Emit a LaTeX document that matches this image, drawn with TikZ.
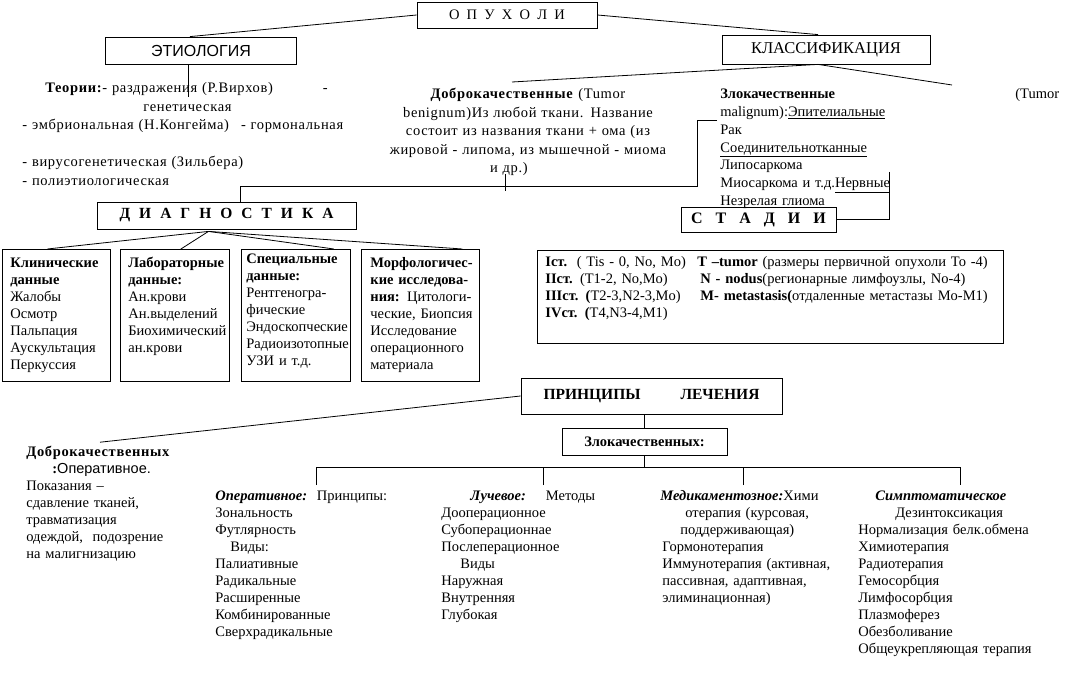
\documentclass[tikz,border=0pt]{standalone}
\usepackage{fontspec}
\setmainfont{Liberation Serif}
\setsansfont{Liberation Sans}
\newfontfamily\spacedfont{Liberation Serif}[LetterSpace=4.5]
\newcommand{\lgap}{\hspace{9pt}}
\usetikzlibrary{calc}

\begin{document}
\begin{tikzpicture}[x=1pt, y=-1pt, line width=0.8pt,
	font=\fontsize{14.5}{17}\selectfont,
	head/.style={draw, inner sep=0pt, align=center},
	cell/.style={draw, inner sep=0pt, anchor=north west},
	txt/.style={inner sep=0pt, anchor=base west, align=left, text width=#1},
	txt/.default=320]
	\useasboundingbox (0,0) rectangle (1074,674);

	% верх
	\node[head, minimum width=180, minimum height=26] (op) at (507,15) {О\ \ П\ \ У\ \ Х\ \ О\ \ Л\ \ И};
	\node[head, minimum width=191, minimum height=27, font=\sffamily\fontsize{16}{17}\selectfont] (etio) at (201,50.5) {ЭТИОЛОГИЯ};
	\node[head, minimum width=208, minimum height=29, font=\fontsize{16.5}{17}\selectfont] (klass) at (826,49.5) {КЛАССИФИКАЦИЯ};
	\coordinate (kl1) at (512,82);
	\coordinate (kl2) at (952,85);

	\draw (op.west) -- ($(etio.north)+(-11,0)$);
	\draw (op.east) -- ($(klass.north)+(-8,0)$);
	\draw (kl1) -- ($(klass.south)+(-8,0)$) -- (kl2);
	\draw ($(etio.south)+(-13,0)$) -- ++(0,33);

	\node[txt=340, font=\spacedfont\fontsize{14.5}{18.5}\selectfont] (teo) at (22,93) {%
		\hspace*{23pt}\textbf{Теории:}- раздражения (Р.Вирхов)\hspace{50pt}-\\
		\hspace*{121pt}генетическая\\
		- эмбриональная (Н.Конгейма)\hspace{12pt}- гормональная\\[18.5pt]
		- вирусогенетическая (Зильбера)\\
		- полиэтиологическая};

	\node[inner sep=0pt, anchor=base, align=center, text width=300,
		font=\spacedfont\fontsize{14.5}{18.5}\selectfont] (dobr) at (528,99) {%
		\textbf{Доброкачественные} (Tumor\\
		benignum)Из любой ткани. Название\\
		состоит из названия ткани + ома (из\\
		жировой - липома, из мышечной - миома\\
		\makebox[76pt][l]{и др.)}};

	\node[txt=280, font=\fontsize{14.5}{17.7}\selectfont] (zl) at (720,99) {%
		\textbf{Злокачественные}\\
		malignum):\underline{Эпителиальные}\\
		Рак\\
		\underline{Соединительнотканные}\\
		Липосаркома\\
		Миосаркома и т.д.\underline{Нервные}\\
		Незрелая глиома};
	\node[txt=55] (tum) at (1015,99) {(Tumor};

	% диагностика
	\node[head, minimum width=259, minimum height=27, font=\bfseries\fontsize{15.5}{17}\selectfont] (diag) at (226.5,215.5)
		{Д\lgap И\lgap А\lgap Г\lgap Н\lgap О\lgap С\lgap Т\lgap И\lgap К\lgap А};
	\coordinate (kz) at (717,120);
	\draw (kz) -- (697,120) -- (697,186) -| ($(diag.north)+(14,0)$);
	\draw ($(dobr.south)+(-23,-2)$) -- ++(0,17);

	\node[cell, minimum width=108, minimum height=132] (d1) at (2,249) {};
	\node[cell, minimum width=109, minimum height=132] (d2) at (120,249) {};
	\node[cell, minimum width=109, minimum height=132] (d3) at (241,249) {};
	\node[cell, minimum width=118, minimum height=132] (d4) at (361,249) {};

	\node[txt=100] (d1t) at ($(d1.north west)+(8,18)$) {%
		\textbf{Клинические}\\ \textbf{данные}\\ Жалобы\\ Осмотр\\ Пальпация\\ Аускультация\\ Перкуссия};
	\node[txt=100] (d2t) at ($(d2.north west)+(8,18)$) {%
		\textbf{Лабораторные}\\ \textbf{данные:}\\ Ан.крови\\ Ан.выделений\\ Биохимический\\ ан.крови};
	\node[txt=105] (d3t) at ($(d3.north west)+(5,14)$) {%
		\textbf{Специальные}\\ \textbf{данные:}\\ Рентгеногра-\\ фические\\ Эндоскопчеcкие\\ Радиоизотопные\\ УЗИ и т.д.};
	\node[txt=110] (d4t) at ($(d4.north west)+(9,18)$) {%
		\textbf{Морфологичес-}\\ \textbf{кие исследова-}\\ \textbf{ния:} Цитологи-\\ ческие, Биопсия\\ Исследование\\ операционного\\ материала};

	\coordinate (dg) at ($(diag.south)+(-18,2)$);
	\draw (dg) -- ($(d1.north)+(-9,0)$);
	\draw (dg) -- ($(d2.north)+(6,0)$);
	\draw (dg) -- ($(d3.north)+(38,0)$);
	\draw (dg) -- ($(d4.north)+(42,0)$);

	% стадии
	\node[head, minimum width=155, minimum height=25, font=\bfseries\fontsize{16}{17}\selectfont] (stad) at (758.5,219.5)
		{С\hspace{13pt}Т\hspace{13pt}А\hspace{13pt}Д\hspace{13pt}И\hspace{13pt}И};
	\coordinate (nv) at (889,172);
	\draw (nv) |- (stad.east);
	\node[cell, minimum width=466, minimum height=93] (stg) at (537,250) {};
	\draw ($(stad.south)+(-5,0)$) -- ($(stad.south)+(-5,0)$ |- stg.north);
	\node[txt=150] (stl) at (545,266) {%
		\textbf{Iст.}\ \ ( Tis - 0, No, Mo)\\
		\textbf{IIст.} (T1-2, No,Mo)\\
		\textbf{IIIст. (}T2-3,N2-3,Mo)\\
		\textbf{IVст. (}T4,N3-4,M1)};
	\node[txt=300] (str) at (697,266) {%
		\textbf{T –tumor} (размеры первичной опухоли To -4)\\
		\hspace*{3pt}\textbf{N - nodus}(регионарные лимфоузлы,\ No-4)\\
		\hspace*{3pt}\textbf{M- metastasis(}отдаленные метастазы Mo-M1)};

	% лечение
	\node[head, minimum width=261, minimum height=36, font=\bfseries\fontsize{15.5}{17}\selectfont] (princ) at (651.5,396) {ПРИНЦИПЫ\hspace{40pt}ЛЕЧЕНИЯ};
	\node[head, minimum width=165, minimum height=27, font=\bfseries\fontsize{14.5}{17}\selectfont] (zlok) at (644.5,441.5) {Злокачественных:};
	\draw (princ.south -| zlok.north) -- (zlok.north);

	\node[txt=170] (dob2) at (26,456) {%
		{\spacedfont\textbf{Доброкачественных}}\\
		\hspace*{26pt}\textbf{:}\textsf{Оперативное.}\\
		Показания –\\
		сдавление тканей,\\
		травматизация\\
		одеждой,\ \ подозрение\\
		на малигнизацию};
	\draw (princ.west) -- ($(dob2.north west)+(74,-3)$);

	\coordinate (bus) at ($(zlok.south)+(0,12)$);
	\coordinate (b1) at (316,485);
	\coordinate (b2) at (543,485);
	\coordinate (b3) at (743,485);
	\coordinate (b4) at (960,485);
	\draw (zlok.south) -- (bus);
	\draw (b1) |- (b4 |- bus) -- (b4);
	\foreach \b in {b2,b3} \draw (\b) -- (\b |- bus);

	\node[txt=200] (oper) at (215,500) {%
		\textbf{\textit{Оперативное:}}\ \ Принципы:\\ Зональность\\ Футлярность\\
		\hspace*{15pt}Виды:\\ Палиативные\\ Радикальные\\ Расширенные\\
		Комбинированные\\ Сверхрадикальные};
	\node[txt=200] (luch) at (441,500) {%
		\hspace*{29pt}\textbf{\textit{Лучевое:}}\hspace{20pt}Методы\\ Дооперационное\\
		Субоперационнае\\ Послеперационное\\ \hspace*{19pt}Виды\\ Наружная\\
		Внутренняя\\ Глубокая};
	\node[txt=200] (med) at (660,500) {%
		\textbf{\textit{Медикаментозное:}}Хими\\
		\hspace*{25pt}отерапия (курсовая,\\
		\hspace*{20pt}поддерживающая)\\
		\hspace*{2pt}Гормонотерапия\\
		\hspace*{2pt}Иммунотерапия (активная,\\
		\hspace*{2pt}пассивная, адаптивная,\\
		\hspace*{2pt}элиминационная)};
	\node[txt=210] (simp) at (858,500) {%
		\hspace*{17pt}\textbf{\textit{Симптоматическое}}\\
		\hspace*{37pt}Дезинтоксикация\\
		Нормализация белк.обмена\\ Химиотерапия\\ Радиотерапия\\ Гемосорбция\\
		Лимфосорбция\\ Плазмоферез\\ Обезболивание\\ Общеукрепляющая терапия};
\end{tikzpicture}
\end{document}
